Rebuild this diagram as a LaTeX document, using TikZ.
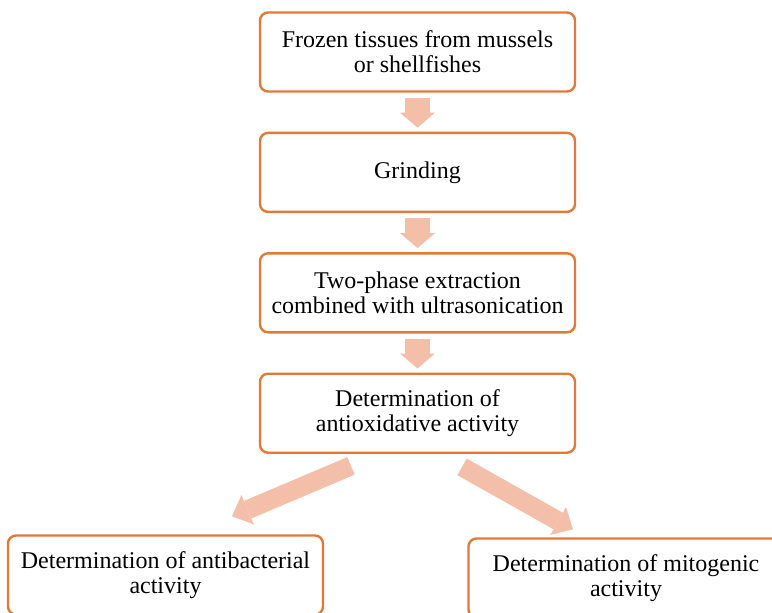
\documentclass[tikz,border=0pt]{standalone}
\usepackage{fontspec}
\setmainfont{Liberation Serif}
\usepackage{tikz}
\usetikzlibrary{positioning,arrows.meta,calc}
\definecolor{boxline}{HTML}{E07A36}
\definecolor{flowfill}{HTML}{F4BFA9}

\begin{document}
\begin{tikzpicture}[
x=0.5pt, y=-0.5pt, node distance=19.5pt,
stepbox/.style={draw=boxline, line width=1.2pt, rounded corners=4pt, fill=white, minimum width=157.5pt, minimum height=39.5pt, align=center, font=\fontsize{12pt}{12.5pt}\selectfont},
vflow/.style={draw=flowfill, line width=12.5pt, -{Triangle[length=7.5pt,width=17.5pt,line width=0pt]}, shorten <=2.5pt, shorten >=2pt},
dflow/.style={draw=flowfill, line width=9.5pt, -{Triangle[length=8.5pt,width=16pt,line width=0pt]}}
]
\useasboundingbox (0,0) rectangle (772,612);
\node[stepbox] (froz) at (417.5,52) {Frozen tissues from mussels\\or shellfishes};
\node[stepbox, below=of froz] (grind) {Grinding};
\node[stepbox, below=of grind] (extr) {Two-phase extraction\\combined with ultrasonication};
\node[stepbox, below=of extr] (anti) {Determination of\\antioxidative activity};
\node[stepbox] (antibac) at (165.5,575) {Determination of antibacterial\\activity};
\node[stepbox] (mito) at (626,578) {Determination of mitogenic\\activity};
% diagonal arrow ends
\coordinate (aL) at ($(anti.south)+(-66.5,12)$);
\coordinate (bL) at ($(antibac.north)+(66.5,-18)$);
\coordinate (aR) at ($(anti.south)+(44.5,13)$);
\coordinate (bR) at ($(mito.north)+(-53,-8)$);
\draw[vflow] (froz) -- (grind);
\draw[vflow] (grind) -- (extr);
\draw[vflow] (extr) -- (anti);
\draw[dflow] (aL) -- (bL);
\draw[dflow] (aR) -- (bR);
\end{tikzpicture}
\end{document}
